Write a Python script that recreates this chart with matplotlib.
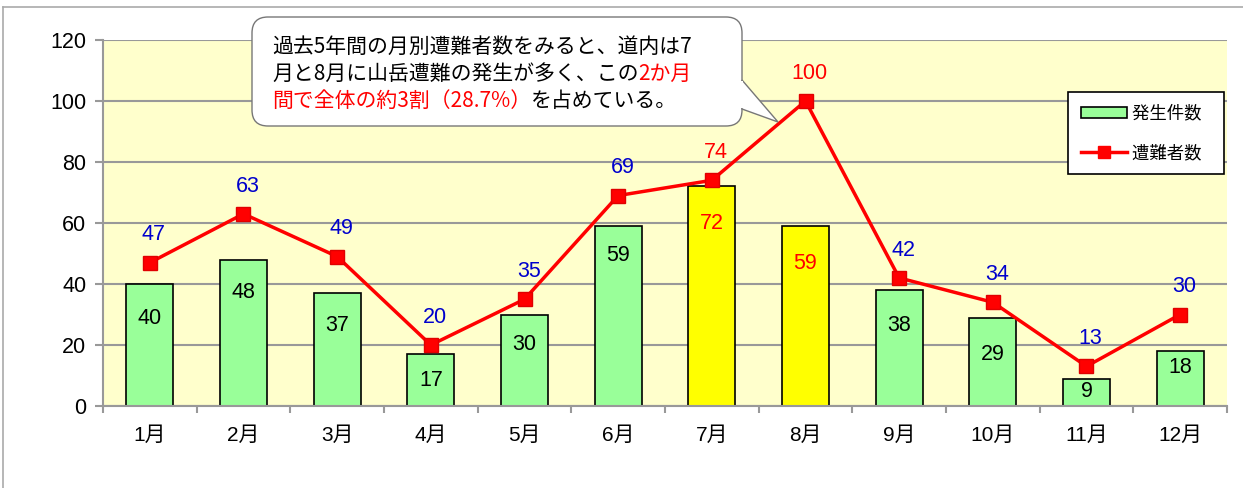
import numpy as np
import matplotlib
matplotlib.use("Agg")
import matplotlib.pyplot as plt
from matplotlib.patches import FancyBboxPatch, Polygon
from matplotlib.lines import Line2D
from matplotlib.transforms import IdentityTransform

plt.rcParams['font.family'] = ['Liberation Sans', 'Noto Sans CJK JP', 'DejaVu Sans']

# data
months = ['1月', '2月', '3月', '4月', '5月', '6月', '7月', '8月', '9月', '10月', '11月', '12月']
incidents = [40, 48, 37, 17, 30, 59, 72, 59, 38, 29, 9, 18]      # 発生件数
victims = [47, 63, 49, 20, 35, 69, 74, 100, 42, 34, 13, 30]       # 遭難者数
highlight = ['7月', '8月']
# how far below the bar top each bar label sits (px)
bar_label_drop = [34, 33, 32, 26, 30, 29, 37, 37, 35, 37, 13, 16]

W, H = 1243, 488
fig = plt.figure(figsize=(W / 100, H / 100), dpi=100)
ax = fig.add_axes([103 / W, 1 - 406 / H, 1124 / W, 366 / H])
ax.set_facecolor('#FFFFCC')

x = np.arange(len(months))
bar_colors = ['#FFFF00' if m in highlight else '#99FF99' for m in months]
ax.bar(x, incidents, width=0.5, color=bar_colors, edgecolor='black', linewidth=1.2, zorder=2)
ax.plot(x, victims, color='#FF0000', lw=2.5, marker='s', ms=10,
        markerfacecolor='#FF0000', markeredgecolor='#E00000', zorder=3)

for i, m in enumerate(months):
    hl = m in highlight
    ax.annotate(str(incidents[i]), (x[i], incidents[i]), xytext=(0, -bar_label_drop[i] * 0.72),
                textcoords='offset points', ha='center', va='center', fontsize=15.5,
                color='#FF0000' if hl else 'black', zorder=4)
    ax.annotate(str(victims[i]), (x[i], victims[i]), xytext=(3, 20),
                textcoords='offset points', ha='center', va='center', fontsize=15.5,
                color='#FF0000' if hl else '#0000CC', zorder=4)

ax.set_xlim(-0.5, len(months) - 0.5)
ax.set_ylim(0, 120)
ax.set_yticks(np.arange(0, 121, 20))
ax.yaxis.grid(True, color='#999999', lw=1.5, zorder=0)
ax.set_axisbelow(True)
ax.set_xticks(x)
ax.set_xticklabels(months, fontsize=15)
ax.set_xticks(np.arange(-0.5, len(months), 1), minor=True)
ax.tick_params(axis='x', which='major', length=0, pad=14)
ax.tick_params(axis='x', which='minor', length=5, color='#999999', width=1.5)
ax.tick_params(axis='y', length=6, color='#999999', width=1.5, labelsize=15.5, pad=6)
for s in ['right', 'top']:
    ax.spines[s].set_visible(False)
for s in ['left', 'bottom']:
    ax.spines[s].set_color('#999999')
    ax.spines[s].set_linewidth(1.5)

# legend
handles = [plt.Rectangle((0, 0), 1, 1, facecolor='#99FF99', edgecolor='black', lw=1.2),
           Line2D([], [], color='#FF0000', lw=2.5, marker='s', ms=8)]
leg = ax.legend(handles, ['発生件数  ', '遭難者数  '], loc='upper right',
                bbox_to_anchor=((1224 - 103) / 1124, (406 - 92) / 366),
                fontsize=12.5, fancybox=False, framealpha=1, edgecolor='black',
                handlelength=2.6, handleheight=0.6, handletextpad=0.3,
                labelspacing=1.3, borderpad=0.75, borderaxespad=0)
leg.get_frame().set_linewidth(1.2)
leg.set_zorder(6)

# callout box (pixel coordinates)
ident = IdentityTransform()
box = FancyBboxPatch((252, H - 126), 490, 109, boxstyle='round,pad=0,rounding_size=16',
                     transform=ident, facecolor='white', edgecolor='#777777', lw=1,
                     clip_on=False, zorder=7)
ax.add_patch(box)
tail = Polygon([(742, H - 80), (778, H - 122), (742, H - 109)], closed=True,
               transform=ident, facecolor='white', edgecolor='#777777', lw=1,
               clip_on=False, zorder=7)
ax.add_patch(tail)
ax.add_patch(Polygon([(740, H - 81), (743, H - 81), (743, H - 108), (740, H - 108)],
                     transform=ident, facecolor='white', edgecolor='none',
                     clip_on=False, zorder=7.5))

lines = [[('過去5年間の月別遭難者数をみると、道内は7', 'black')],
         [('月と8月に山岳遭難の発生が多く、この', 'black'), ('2か月', '#FF0000')],
         [('間で全体の約3割（28.7%）', '#FF0000'), ('を占めている。', 'black')]]
line_y = [47, 74, 101]
cjk = ['Noto Sans CJK JP', 'DejaVu Sans']
for segs, ly in zip(lines, line_y):
    prev = None
    for s, c in segs:
        if prev is None:
            prev = ax.text(272, H - ly, s, transform=ident, fontsize=15, color=c, family=cjk,
                           ha='left', va='center', zorder=8, clip_on=False)
        else:
            prev = ax.annotate(s, xy=(1, 0), xycoords=prev, fontsize=15, color=c, family=cjk,
                               ha='left', va='bottom', zorder=8, annotation_clip=False)

# outer frame lines
fig.add_artist(Line2D([3 / W, 3 / W], [0, 1 - 7 / H], color='#AAAAAA', lw=1.2))
fig.add_artist(Line2D([3 / W, 1], [1 - 7 / H, 1 - 7 / H], color='#AAAAAA', lw=1.2))

fig.savefig('out.png', dpi=100)
